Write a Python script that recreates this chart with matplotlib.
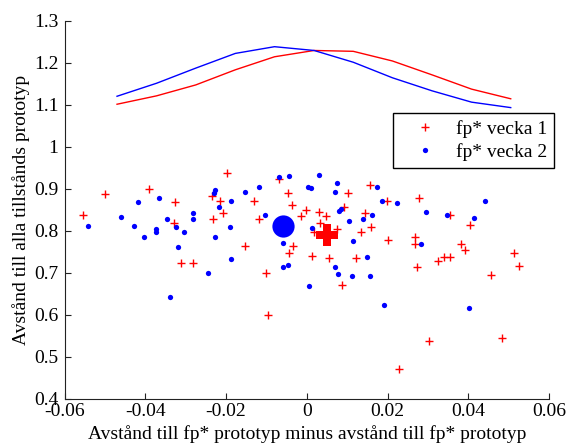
import matplotlib
matplotlib.use("Agg")
import matplotlib.pyplot as plt

plt.rcParams['font.family'] = ['Liberation Serif', 'DejaVu Serif']

# prototype curves (top of chart)
curve_x = [-0.047, -0.0372, -0.0275, -0.0177, -0.008, 0.0018,
           0.0115, 0.0212, 0.031, 0.0408, 0.0505]
curve_v1 = [1.101, 1.121, 1.147, 1.183, 1.214, 1.229,
            1.227, 1.204, 1.171, 1.137, 1.114]
curve_v2 = [1.120, 1.151, 1.187, 1.222, 1.238, 1.229,
            1.201, 1.164, 1.133, 1.106, 1.093]

# fp* vecka 1 (red +)
v1_x = [-0.0198, -0.050, -0.039, -0.0555, -0.0327, -0.0236, -0.0215, -0.0208,
        -0.0233, -0.0328, -0.0312, -0.0283,
        -0.007, -0.0046, -0.0132, -0.0037, -0.0002, 0.0031, 0.0048, -0.0015,
        0.0033, -0.0118, 0.0103, 0.0091, 0.0157, 0.0198, 0.0145, 0.0159,
        0.0134, 0.0074, 0.0202, 0.0018, -0.0153, -0.0035, -0.0043, 0.0012,
        0.0054, 0.0122, -0.0101, 0.0087, -0.0095,
        0.0279, 0.0354, 0.0405, 0.0269, 0.0269, 0.0273, 0.0382, 0.0393,
        0.0326, 0.0339, 0.0355, 0.0512, 0.0525, 0.0455, 0.0302, 0.0483, 0.0229]
v1_y = [0.938, 0.887, 0.899, 0.837, 0.869, 0.883, 0.871, 0.843,
        0.827, 0.819, 0.722, 0.724,
        0.922, 0.890, 0.871, 0.861, 0.849, 0.845, 0.835, 0.835,
        0.819, 0.827, 0.890, 0.857, 0.909, 0.871, 0.841, 0.808,
        0.798, 0.803, 0.778, 0.798, 0.764, 0.764, 0.748, 0.740,
        0.735, 0.736, 0.700, 0.671, 0.599,
        0.879, 0.837, 0.814, 0.784, 0.768, 0.714, 0.768, 0.754,
        0.728, 0.738, 0.737, 0.748, 0.716, 0.695, 0.537, 0.545, 0.470]

# fp* vecka 2 (blue dots)
v2_x = [-0.0541, -0.046, -0.0419, -0.0367, -0.0428, -0.0403, -0.0374, -0.0374,
        -0.0347, -0.0325, -0.0303, -0.032, -0.0281, -0.0281, -0.0339, -0.0245,
        -0.0228, -0.0227, -0.0229, -0.0217, -0.019, -0.0187,
        -0.007, -0.0043, 0.0031, -0.0118, -0.0153, 0.0004, 0.001, 0.0076,
        0.007, 0.0174, 0.0185, -0.0187, -0.0103, 0.0079, 0.0084, 0.0104,
        0.014, 0.0162, 0.0012, -0.006, 0.0114, -0.006, -0.0046, 0.007,
        0.0077, 0.0112, 0.0157, 0.0149, 0.0006, 0.0192,
        0.0223, 0.0296, 0.0347, 0.0442, 0.0415, 0.0284, 0.0401]
v2_y = [0.810, 0.832, 0.869, 0.879, 0.810, 0.784, 0.805, 0.797,
        0.829, 0.808, 0.798, 0.760, 0.842, 0.829, 0.643, 0.700,
        0.784, 0.897, 0.889, 0.857, 0.808, 0.732,
        0.927, 0.929, 0.932, 0.905, 0.892, 0.905, 0.902, 0.913,
        0.892, 0.905, 0.871, 0.871, 0.837, 0.847, 0.852, 0.824,
        0.827, 0.837, 0.806, 0.771, 0.776, 0.714, 0.718, 0.714,
        0.697, 0.692, 0.692, 0.737, 0.668, 0.624,
        0.865, 0.845, 0.837, 0.871, 0.831, 0.768, 0.617]

# centroids
c1 = (0.0051, 0.790)
c2 = (-0.0058, 0.812)

fig = plt.figure(figsize=(5.69, 4.45), dpi=100)
ax = fig.add_axes([0.1134, 0.104, 0.8516, 0.8496])

ax.plot(curve_x, curve_v1, color='red', lw=1)
ax.plot(curve_x, curve_v2, color='blue', lw=1)

h1, = ax.plot(v1_x, v1_y, '+', color='red', ms=6, mew=1, label='fp* vecka 1')
h2, = ax.plot(v2_x, v2_y, 'o', color='blue', ms=3.8, mew=0, label='fp* vecka 2')
ax.plot(c2[0], c2[1], 'o', color='blue', ms=16, mew=0)
ax.plot(c1[0], c1[1], 'P', color='red', ms=16, mew=0)

ax.set_xlim(-0.06, 0.06)
ax.set_ylim(0.4, 1.3)
ax.set_xticks([-0.06, -0.04, -0.02, 0, 0.02, 0.04, 0.06])
ax.set_xticklabels(['-0.06', '-0.04', '-0.02', '0', '0.02', '0.04', '0.06'])
ax.set_yticks([0.4, 0.5, 0.6, 0.7, 0.8, 0.9, 1.0, 1.1, 1.2, 1.3])
ax.set_yticklabels(['0.4', '0.5', '0.6', '0.7', '0.8', '0.9', '1', '1.1', '1.2', '1.3'])

ax.spines['top'].set_visible(False)
ax.spines['right'].set_visible(False)
for s in ('left', 'bottom'):
    ax.spines[s].set_color('#222222')
    ax.spines[s].set_linewidth(0.8)
ax.tick_params(direction='in', length=4, width=0.8, labelsize=14, colors='#222222', labelcolor='black')
ax.tick_params(axis='x', pad=3)
ax.tick_params(axis='y', pad=4.5)

ax.set_xlabel('Avstånd till fp* prototyp minus avstånd till fp* prototyp', fontsize=14, labelpad=4)
ax.set_ylabel('Avstånd till alla tillstånds prototyp', fontsize=14, labelpad=3)

leg = ax.legend(handles=[h1, h2], loc='upper left', bbox_to_anchor=(0.678, 0.756),
                borderaxespad=0, fancybox=False, edgecolor='black', framealpha=1,
                fontsize=14, handlelength=2.6, borderpad=0.35, labelspacing=0.3,
                handletextpad=0.3)
leg.get_frame().set_linewidth(1)

fig.savefig('out.png', dpi=100)
